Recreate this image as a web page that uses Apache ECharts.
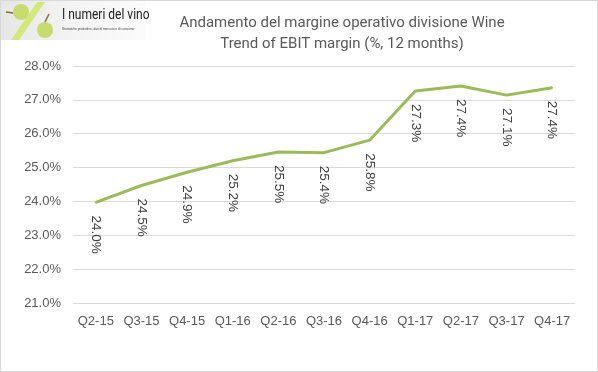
<!DOCTYPE html>
<html><head><meta charset="utf-8">
<script src="https://cdn.jsdelivr.net/npm/echarts@6/dist/echarts.min.js"></script>
<style>html,body{margin:0;padding:0;background:#fff}#c{width:598px;height:372px}</style>
</head><body><div id="c"></div>
<script>
const categories = ['Q2-15','Q3-15','Q4-15','Q1-16','Q2-16','Q3-16','Q4-16','Q1-17','Q2-17','Q3-17','Q4-17'];
const ebitMargin = [23.97, 24.47, 24.86, 25.2, 25.46, 25.44, 25.81, 27.26, 27.41, 27.14, 27.36];
const yTicks = { min: 21, max: 28, interval: 1 };
const titleLines = ['Andamento del margine operativo divisione Wine', 'Trend of EBIT margin (%, 12 months)'];

const chart = echarts.init(document.getElementById('c'), null, {renderer:'canvas'});
chart.setOption({
  animation: false,
  backgroundColor: '#fff',
  title: {
    text: titleLines.join('\n'),
    left: 337, top: 8, textAlign: 'center',
    textStyle: { fontFamily: 'Roboto', fontSize: 15, fontWeight: 'normal', color: '#595959', lineHeight: 21 }
  },
  grid: { left: 73, right: 23, top: 66, bottom: 69 },
  xAxis: {
    type: 'category', data: categories, boundaryGap: true,
    axisLine: { show: false }, axisTick: { show: false },
    axisLabel: { interval: 0, color: '#595959', fontFamily: 'Liberation Sans', fontSize: 13, margin: 12 }
  },
  yAxis: {
    type: 'value', min: yTicks.min, max: yTicks.max, interval: yTicks.interval,
    axisLine: { show: false }, axisTick: { show: false },
    axisLabel: { color: '#595959', fontFamily: 'Liberation Sans', fontSize: 13, margin: 12, formatter: v => v.toFixed(1) + '%' },
    splitLine: { lineStyle: { color: '#d9d9d9', width: 1 } }
  },
  series: [{
    type: 'line', data: ebitMargin, symbol: 'circle', symbolSize: 2, showSymbol: true,
    itemStyle: { color: '#9bbb59' },
    lineStyle: { color: '#9bbb59', width: 3 },
    labelLayout: { hideOverlap: false },
    label: {
      show: true, position: 'bottom', distance: 12, rotate: -90,
      align: 'left', verticalAlign: 'middle', offset: [-2, 0],
      color: '#404040', fontFamily: 'Liberation Sans', fontSize: 13.5,
      formatter: p => p.value.toFixed(1) + '%'
    }
  }],
  graphic: [
    { type: 'rect', shape: { x: 0.5, y: 0.5, width: 597, height: 371 }, style: { fill: 'none', stroke: '#d9d9d9', lineWidth: 1 }, z: 100 },
    { type: 'rect', shape: { x: 0, y: 0, width: 146, height: 40 },
      style: { fill: new echarts.graphic.LinearGradient(0, 0, 1, 0, [{offset:0,color:'#e6e6e6'},{offset:0.5,color:'#f4f4f4'},{offset:1,color:'#fbfbfb'}]) } },
    { type: 'polygon', shape: { points: [[37,2],[45,2],[19,40],[11,40]] }, style: { fill: '#d4e87a' } },
    { type: 'circle', shape: { cx: 21, cy: 12, r: 8 }, style: { fill: '#c8dc6e' } },
    { type: 'circle', shape: { cx: 45, cy: 30, r: 8 }, style: { fill: '#c8dc6e' } },
    { type: 'line', shape: { x1: 6, y1: 12, x2: 13, y2: 13 }, style: { stroke: '#8a6a3a', lineWidth: 1.5 } },
    { type: 'line', shape: { x1: 45, y1: 22, x2: 49, y2: 14 }, style: { stroke: '#8a6a3a', lineWidth: 1.5 } },
    { type: 'text', x: 62, y: 8, scaleX: 0.8, style: { text: 'I numeri del vino', fontFamily: 'Roboto', fontSize: 15, fill: '#222' } },
    { type: 'text', x: 62, y: 27, scaleX: 0.8, style: { text: 'Statistiche produttive, dati di mercato e di consumo', fontFamily: 'Liberation Sans', fontSize: 4, fill: '#444' } }
  ]
});
</script></body></html>
